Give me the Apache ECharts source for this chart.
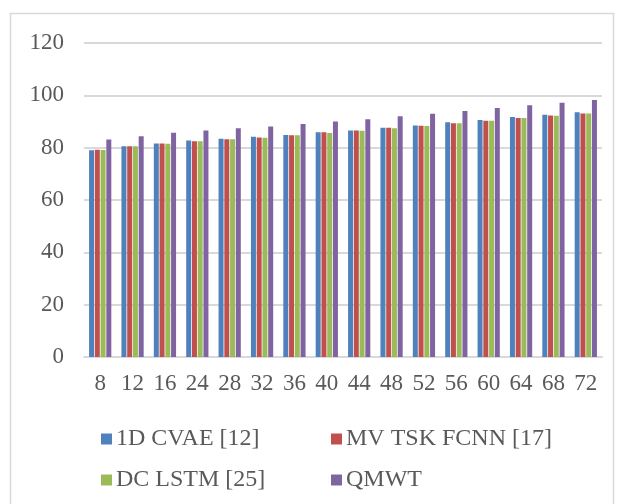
<!DOCTYPE html>
<html>
<head>
<meta charset="utf-8">
<script src="https://cdn.jsdelivr.net/npm/echarts@6/dist/echarts.min.js"></script>
<style>
html,body{margin:0;padding:0;background:#fff;}
#chart{width:618px;height:504px;}
</style>
</head>
<body>
<div id="chart"></div>
<script>
const categories = ['8','12','16','24','28','32','36','40','44','48','52','56','60','64','68','72'];
const seriesNames = ['1D CVAE [12]','MV TSK FCNN [17]','DC LSTM [25]','QMWT'];
const cvae   = [79.0, 80.5, 81.6, 82.7, 83.4, 84.2, 84.8, 85.9, 86.6, 87.6, 88.5, 89.7, 90.6, 91.7, 92.6, 93.5];
const mvtsk  = [79.2, 80.5, 81.6, 82.5, 83.2, 83.9, 84.7, 85.9, 86.6, 87.6, 88.4, 89.3, 90.3, 91.3, 92.3, 93.1];
const dclstm = [79.1, 80.5, 81.5, 82.5, 83.2, 83.8, 84.7, 85.6, 86.5, 87.4, 88.3, 89.3, 90.3, 91.3, 92.2, 93.1];
const qmwt   = [83.1, 84.4, 85.7, 86.6, 87.4, 88.1, 89.0, 90.0, 90.9, 92.0, 93.0, 94.0, 95.2, 96.2, 97.2, 98.2];
const yTicks = [0, 20, 40, 60, 80, 100, 120];
const colors = ['#4F81BD','#C0504D','#9BBB59','#8064A2'];

const chart = echarts.init(document.getElementById('chart'), null, {renderer:'canvas'});
const font = '"Liberation Serif", "Times New Roman", serif';
const allData = [cvae, mvtsk, dclstm, qmwt];

const legendBase = {
  orient: 'vertical', itemGap: 17,
  itemWidth: 11, itemHeight: 11, icon: 'rect',
  textStyle: {fontFamily: font, fontSize: 24, color: '#595959', padding: [0,0,0,-1]}
};

const option = {
  animation: false,
  backgroundColor: '#ffffff',
  textStyle: {fontFamily: font},
  graphic: [{
    type: 'rect',
    shape: {x: 10.5, y: 13.5, width: 603, height: 510},
    style: {fill: 'none', stroke: '#d9d9d9', lineWidth: 1.5},
    silent: true
  }],
  grid: {left: 84, right: 16, top: 43, bottom: 147, containLabel: false},
  legend: [
    Object.assign({left: 96, top: 422, data: [seriesNames[0], seriesNames[2]]}, legendBase),
    Object.assign({left: 326, top: 422, data: [seriesNames[1], seriesNames[3]]}, legendBase)
  ],
  xAxis: {
    type: 'category',
    data: categories,
    axisLine: {show: true, lineStyle: {color: '#d9d9d9', width: 2}},
    axisTick: {show: false},
    axisLabel: {fontFamily: font, fontSize: 23, color: '#595959', margin: 15, interval: 0}
  },
  yAxis: {
    type: 'value',
    min: yTicks[0], max: yTicks[yTicks.length-1], interval: 20,
    axisLine: {show: false},
    axisTick: {show: false},
    splitLine: {lineStyle: {color: '#d9d9d9', width: 2}},
    axisLabel: {fontFamily: font, fontSize: 23, color: '#595959', margin: 20}
  },
  series: seriesNames.map((name, i) => ({
    name: name,
    type: 'bar',
    data: allData[i],
    barWidth: 5,
    barGap: '15%',
    itemStyle: {color: colors[i]}
  }))
};
chart.setOption(option);
</script>
</body>
</html>
